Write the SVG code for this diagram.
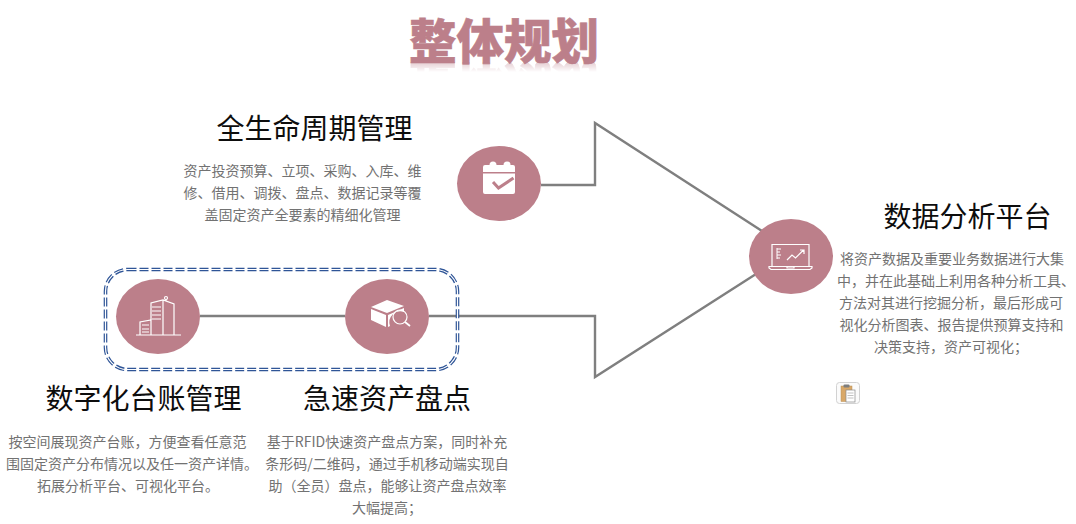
<svg xmlns="http://www.w3.org/2000/svg" width="1076" height="524" viewBox="0 0 1076 524">
<style>
text{font-family:"Noto Sans CJK SC","Noto Sans",sans-serif;text-anchor:middle}
.h{font-size:28px;fill:#0d0d0d}
.b{font-size:14px;fill:#727272}
.t{font-size:47.500px;font-weight:900;fill:#bc7f8a;stroke:#bc7f8a;stroke-width:.6}
.c{fill:none;stroke:#7f7f7f;stroke-width:2.400}
.n{fill:#bc7f8a}
.i{fill:none;stroke:#fff;stroke-width:1.200}
.f{fill:#fff}
</style>
<defs>
<linearGradient id="rg" x1="0" y1="0" x2="0" y2="1"><stop offset="0" stop-color="#fff" stop-opacity=".4"/><stop offset="1" stop-color="#fff" stop-opacity="0"/></linearGradient>
<mask id="rm" maskUnits="userSpaceOnUse" x="400" y="62" width="210" height="10"><rect x="400" y="62" width="210" height="10" fill="url(#rg)"/></mask>
</defs>
<g id="title">
<g mask="url(#rm)"><use href="#title-text" transform="translate(0 125) scale(1 -1)"/></g>
<text id="title-text" class="t" x="504" y="59">整体规划</text>
</g>
<g id="connectors">
<path class="c" d="M541 185H595V123L762 231"/>
<path class="c" d="M200 316H345"/>
<path class="c" d="M429 316H595V377L756 274"/>
</g>
<g id="group-box" fill="none">
<rect x="105.500" y="269.500" width="352" height="100" rx="22" stroke="#2f5597" stroke-width="3.600" stroke-dasharray="9 3"/>
<rect x="105.500" y="269.500" width="352" height="100" rx="22" stroke="#fff" stroke-width="1.200"/>
</g>
<g id="node-lifecycle">
<ellipse class="n" cx="499" cy="183.500" rx="42" ry="37.500"/>
<path class="f" d="M485 165h4.500a3.500 3.500 0 0 1 7 0h7a3.500 3.500 0 0 1 7 0H513a2 2 0 0 1 2 2v5h-32v-5a2 2 0 0 1 2-2zM483 173.500h32v18.500a2 2 0 0 1-2 2H485a2 2 0 0 1-2-2z"/>
<path d="M493 182l5.500 6 15-10" fill="none" stroke="#bc7f8a" stroke-width="3"/>
<text class="h" x="314.500" y="139">全生命周期管理</text>
<text class="b" x="302.500" y="176">资产投资预算、立项、采购、入库、维</text>
<text class="b" x="302.500" y="198">修、借用、调拨、盘点、数据记录等覆</text>
<text class="b" x="302.500" y="220">盖固定资产全要素的精细化管理</text>
</g>
<g id="node-ledger">
<ellipse class="n" cx="158" cy="316.500" rx="42" ry="37.500"/>
<path class="i" d="M136 335h45M140 335V322l11-2v15M151 320V303l12-3 11 4v31M163 300v35M152 307h9M152 311h9M152 315h9M152 319h9M142 325h7M142 329h7M142 332h7M166 302l0-3"/>
<circle class="i" cx="166" cy="298" r="1.500"/>
<text class="h" x="143.500" y="409">数字化台账管理</text>
<text class="b" x="127.500" y="447">按空间展现资产台账，方便查看任意范</text>
<text class="b" x="132" y="469">围固定资产分布情况以及任一资产详情。</text>
<text class="b" x="128" y="491">拓展分析平台、可视化平台。</text>
</g>
<g id="node-inventory">
<ellipse class="n" cx="387" cy="316.500" rx="42" ry="37.500"/>
<path class="f" d="M371 307l16-7 17 6-17 7zM371 309l15 6v12l-15-7zM388 315l16-7v4a11 11 0 0 0-14 14l-2 1z"/>
<circle class="i" cx="400" cy="317" r="7"/>
<path d="M405 322l5 4" stroke="#fff" stroke-width="1.800"/>
<text class="h" x="387" y="409">急速资产盘点</text>
<text class="b" x="387" y="447">基于RFID快速资产盘点方案，同时补充</text>
<text class="b" x="387" y="469">条形码/二维码，通过手机移动端实现自</text>
<text class="b" x="387.500" y="491">助（全员）盘点，能够让资产盘点效率</text>
<text class="b" x="387" y="513">大幅提高；</text>
</g>
<g id="node-platform">
<ellipse class="n" cx="791" cy="256.500" rx="42" ry="37.500"/>
<path class="i" d="M772 266V244.500h37V266M769 266.500h43v1.500l-2 1.500H771l-2-1.500zM787 266.500v1.500h7v-1.500"/>
<path class="i" d="M787 260l5-5 3.500 3 8-8M800 250h4v4"/>
<path d="M777 249h4M777 252h3M777 255h4M777 258h3M777 248v11" stroke="#fff" stroke-width="1"/>
<text class="h" x="967.500" y="227">数据分析平台</text>
<text class="b" x="952" y="264">将资产数据及重要业务数据进行大集</text>
<text class="b" x="956" y="286">中，并在此基础上利用各种分析工具、</text>
<text class="b" x="951" y="308">方法对其进行挖掘分析，最后形成可</text>
<text class="b" x="951.500" y="330">视化分析图表、报告提供预算支持和</text>
<text class="b" x="951" y="352">决策支持，资产可视化；</text>
</g>
<g id="clipboard-badge">
<rect x="836.500" y="382.500" width="23" height="21" rx="3" fill="#fbfbfb" stroke="#d2d2d2"/>
<rect x="841" y="386" width="11" height="15.500" fill="#d9a868" stroke="#b98f57" stroke-width=".5"/>
<rect x="843.500" y="384.500" width="6" height="3" rx="1" fill="#7d7d7d"/>
<rect x="846" y="390" width="9" height="12" fill="#fff" stroke="#8a8a8a" stroke-width=".7"/>
<path d="M847.500 393h6M847.500 395.500h6M847.500 398h6" stroke="#999" stroke-width=".6"/>
</g>
</svg>
